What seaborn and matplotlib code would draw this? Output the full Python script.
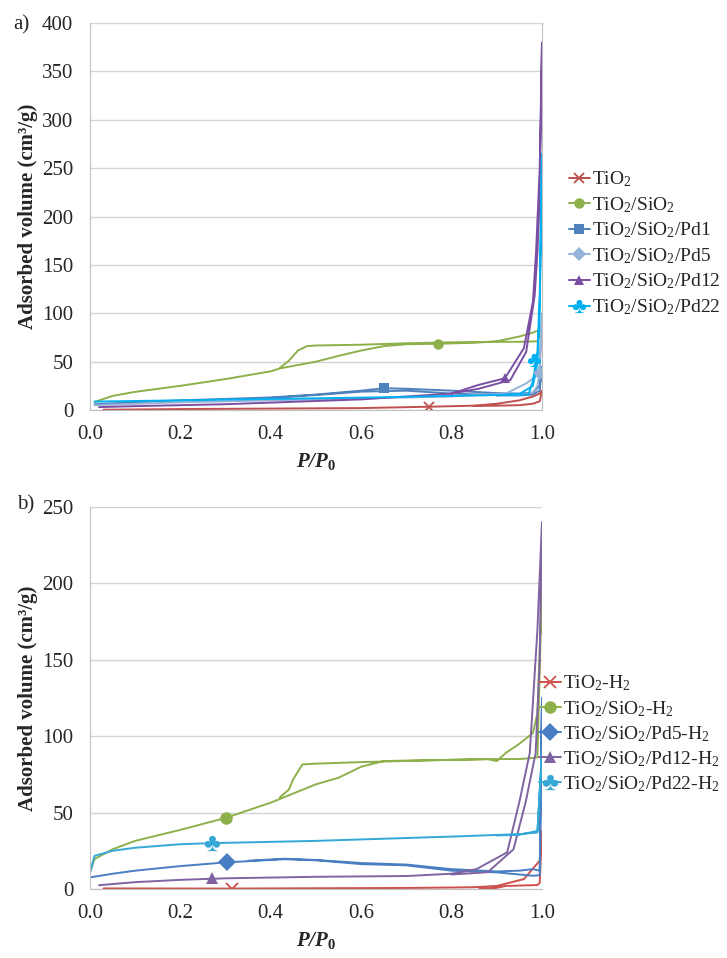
import matplotlib
matplotlib.use("Agg")
import matplotlib.pyplot as plt
from matplotlib.lines import Line2D
import seaborn as sns

# ---- panel a) : as-prepared samples (P/P0, adsorbed volume) ----
labels_a = ["TiO$_2$", "TiO$_2$/SiO$_2$", "TiO$_2$/SiO$_2$/Pd1",
            "TiO$_2$/SiO$_2$/Pd5", "TiO$_2$/SiO$_2$/Pd12", "TiO$_2$/SiO$_2$/Pd22"]

tio2_p = [0.03, 0.2, 0.4, 0.6, 0.75, 0.85, 0.9, 0.95, 0.98, 0.995, 1.0,
          1.0, 0.995, 0.98, 0.95, 0.9, 0.85]
tio2_v = [0.3, 1.0, 1.5, 2.0, 3.4, 4.5, 6.5, 10, 14, 17, 20,
          20, 9, 6.5, 5, 4.5, 4.2]

sio2_p = [0.01, 0.05, 0.1, 0.2, 0.3, 0.4, 0.42, 0.5, 0.55, 0.6, 0.65, 0.7, 0.77, 0.85, 0.9, 0.95, 0.98, 1.0,
          1.0, 0.99, 0.95, 0.9, 0.8, 0.7, 0.6, 0.5, 0.48, 0.46, 0.44, 0.42]
sio2_v = [8.3, 14.6, 18.8, 25, 32, 40, 43, 50, 56, 61.5, 66, 68, 68.5, 69.5, 71, 76, 80, 84,
          84, 71, 70.5, 70.5, 70, 69, 67.5, 66.7, 66, 61.5, 51, 43.4]

pd1_p = [0.01, 0.1, 0.2, 0.3, 0.4, 0.5, 0.6, 0.65, 0.7, 0.8, 0.9, 0.95, 0.98, 0.995, 1.0,
         1.0, 0.995, 0.98, 0.95, 0.9, 0.8, 0.7, 0.6, 0.5, 0.4]
pd1_v = [6, 8, 10, 11.5, 13, 16, 20, 22.5, 22, 20, 17.5, 17, 18, 25, 45,
         45, 20, 16, 15, 15.5, 17, 20, 19, 15.5, 12.5]

pd5_p = [0.01, 0.2, 0.4, 0.6, 0.8, 0.92, 0.965, 0.99, 0.995, 1.0,
         1.0, 0.995, 0.99, 0.98, 0.95, 0.9]
pd5_v = [5, 8, 10, 12, 14, 17, 27.5, 36, 45, 100,
         100, 40, 25, 18, 15.5, 14.5]

pd12_p = [0.02, 0.1, 0.3, 0.6, 0.8, 0.86, 0.918, 0.96, 0.98, 0.987, 0.995, 1.0,
          1.0, 0.995, 0.99, 0.984, 0.965, 0.93, 0.86, 0.8]
pd12_v = [3, 4, 6, 11, 17, 26, 32.8, 64, 112, 164, 250, 380,
          380, 220, 164, 119, 60, 31, 22, 17]

pd22_p = [0.01, 0.05, 0.2, 0.4, 0.6, 0.8, 0.9, 0.97, 0.98, 0.99, 0.995, 1.0,
          1.0, 0.995, 0.99, 0.98, 0.95, 0.9]
pd22_v = [8.7, 9, 10, 11.5, 12.8, 14.5, 15.5, 16, 30, 60, 120, 265,
          265, 100, 50, 25, 16.5, 15.5]

mark_p_a = [0.749, 0.771, 0.65, 0.995, 0.918, 0.982]
mark_v_a = [3.4, 68.5, 22.4, 38, 32.8, 52]

# ---- panel b) : H2-reduced samples ----
labels_b = ["TiO$_2$-H$_2$", "TiO$_2$/SiO$_2$-H$_2$", "TiO$_2$/SiO$_2$/Pd5-H$_2$",
            "TiO$_2$/SiO$_2$/Pd12-H$_2$", "TiO$_2$/SiO$_2$/Pd22-H$_2$"]

tio2h_p = [0.03, 0.3, 0.5, 0.7, 0.8, 0.85, 0.9, 0.96, 0.995, 1.0,
           1.0, 0.995, 0.99, 0.92, 0.9, 0.88, 0.86]
tio2h_v = [0.4, 0.3, 0.5, 0.7, 1.0, 1.2, 2, 6.5, 18.5, 38,
           38, 4, 2.6, 2, 0.8, 0.3, 0.8]

sio2h_p = [0.0, 0.01, 0.05, 0.1, 0.2, 0.3, 0.4, 0.5, 0.55, 0.6, 0.65, 0.7, 0.8, 0.88, 0.9, 0.92, 0.95, 0.98, 0.99, 1.0,
           1.0, 0.99, 0.95, 0.9, 0.8, 0.6, 0.5, 0.47, 0.45, 0.44, 0.42]
sio2h_v = [10.9, 19.6, 26, 31.5, 38.7, 46.5, 56.5, 68.5, 72.8, 80, 83.7, 84, 84.5, 85, 83.7, 89, 95, 102, 115, 200,
           200, 86, 85, 85, 84.5, 83, 82, 81.5, 72, 65, 60]

pd5h_p = [0.0, 0.05, 0.1, 0.2, 0.3, 0.43, 0.5, 0.6, 0.7, 0.8, 0.9, 0.95, 0.98, 0.995, 1.0,
          1.0, 0.995, 0.98, 0.95, 0.9, 0.8, 0.7, 0.6, 0.5, 0.43, 0.35]
pd5h_v = [7.6, 10, 12, 15, 17.4, 19.5, 18.8, 16.3, 15.5, 12, 10.9, 9.5, 8.7, 9, 125,
          125, 12, 13, 12, 11.5, 13, 16, 17, 19, 19.8, 18.5]

pd12h_p = [0.02, 0.1, 0.2, 0.3, 0.5, 0.7, 0.8, 0.855, 0.923, 0.95, 0.973, 0.99, 1.0,
           1.0, 0.995, 0.986, 0.964, 0.937, 0.88, 0.8]
pd12h_v = [2.5, 4.5, 6, 7, 8, 8.5, 10, 13, 24, 57, 89, 170, 240,
           240, 150, 89, 57, 26, 11, 9.5]

pd22h_p = [0.0, 0.01, 0.05, 0.1, 0.2, 0.27, 0.5, 0.8, 0.95, 0.99, 1.0,
           1.0, 0.99, 0.95, 0.9]
pd22h_v = [10.9, 21.7, 25, 27, 29.3, 30, 31.5, 34.3, 35.9, 37, 90,
           90, 38, 35.5, 35]

mark_p_b = [0.315, 0.3, 0.303, 0.27, 0.27]
mark_v_b = [0.0, 46.5, 17.4, 7.5, 30.4]

colors_a = ["#C0504D", "#8DB04A", "#4F81BD", "#95B3D7", "#7A4FA3", "#00B0F0"]
colors_b = ["#D0504D", "#8DB04A", "#4A7EC2", "#8064A2", "#35A8D6"]
markers_a = ["x", "o", "s", "D", "^", "$\u2663$"]
markers_b = ["x", "o", "D", "^", "$\u2663$"]

sns.set_style("white")
plt.rcParams["font.family"] = ["Liberation Serif", "DejaVu Sans"]
plt.rcParams["mathtext.fontset"] = "custom"
plt.rcParams["mathtext.rm"] = "Liberation Serif"
plt.rcParams["mathtext.it"] = "Liberation Serif:italic"
plt.rcParams["mathtext.bf"] = "Liberation Serif:bold"
plt.rcParams["mathtext.bfit"] = "Liberation Serif:italic:bold"

fig = plt.figure(figsize=(7.27, 9.58), dpi=100)
ax_a = fig.add_axes([0.1238, 0.572, 0.6217, 0.404])
ax_b = fig.add_axes([0.1238, 0.072, 0.6217, 0.399])


def draw_panel(ax, series, colors, markers, mp, mv, ylim, ystep, msize):
    for (p, v), c in zip(series, colors):
        sns.lineplot(x=p, y=v, sort=False, estimator=None, color=c, lw=1.4, ax=ax, legend=False)
    for x, y, c, m in zip(mp, mv, colors, markers):
        kw = dict(mew=1.3) if m == "x" else dict(mew=0)
        ax.plot([x], [y], ls="none", marker=m, color=c, ms=msize + (2 if m.startswith("$") else 0), **kw)
    ax.set_xlim(0, 1.0)
    ax.set_ylim(0, ylim)
    ax.set_xticks([0, 0.2, 0.4, 0.6, 0.8, 1.0])
    ax.set_xticklabels(["0.0", "0.2", "0.4", "0.6", "0.8", "1.0"])
    ax.set_yticks(range(0, ylim + 1, ystep))
    ax.grid(axis="y", color="#D4D4D4", lw=1)
    ax.set_axisbelow(True)
    ax.tick_params(axis="x", direction="inout", length=8, color="#BFBFBF", labelsize=15, pad=7)
    ax.tick_params(axis="y", direction="out", length=5, color="#D4D4D4", labelsize=15, pad=7)
    for s in ["top", "right"]:
        ax.spines[s].set_visible(False)
    for s in ["left", "bottom"]:
        ax.spines[s].set_color("#BFBFBF")
    ax.set_xlabel(r"$\mathbfit{P/P}_{\mathbf{0}}$", fontsize=15, labelpad=5)
    ax.set_ylabel("Adsorbed volume (cm\u00b3/g)", fontsize=15, fontweight="bold", labelpad=3)
    handles = [Line2D([0], [0], color=c, lw=1.4, marker=m,
                      ms=msize + (2 if m.startswith("$") else 0), mew=1.3 if m == "x" else 0)
               for c, m in zip(colors, markers)]
    return handles


h_a = draw_panel(ax_a, [(tio2_p, tio2_v), (sio2_p, sio2_v), (pd1_p, pd1_v), (pd5_p, pd5_v),
                        (pd12_p, pd12_v), (pd22_p, pd22_v)],
                 colors_a, markers_a, mark_p_a, mark_v_a, 400, 50, 7.5)
ax_a.spines["right"].set_visible(True)
ax_a.spines["right"].set_color("#BFBFBF")
fig.legend(h_a, labels_a, loc="center left", bbox_to_anchor=(0.782, 0.746), frameon=False,
           fontsize=14, handlelength=1.1, handletextpad=0.1, labelspacing=0.3,
           borderpad=0, borderaxespad=0)

h_b = draw_panel(ax_b, [(tio2h_p, tio2h_v), (sio2h_p, sio2h_v), (pd5h_p, pd5h_v),
                        (pd12h_p, pd12h_v), (pd22h_p, pd22h_v)],
                 colors_b, markers_b, mark_p_b, mark_v_b, 250, 50, 9)
fig.legend(h_b, labels_b, loc="center left", bbox_to_anchor=(0.742, 0.234), frameon=False,
           fontsize=14, handlelength=1.1, handletextpad=0.1, labelspacing=0.28,
           borderpad=0, borderaxespad=0)

fig.text(0.018, 0.974, "a)", fontsize=15, va="center")
fig.text(0.023, 0.473, "b)", fontsize=15, va="center")

fig.savefig("out.png", dpi=100)
